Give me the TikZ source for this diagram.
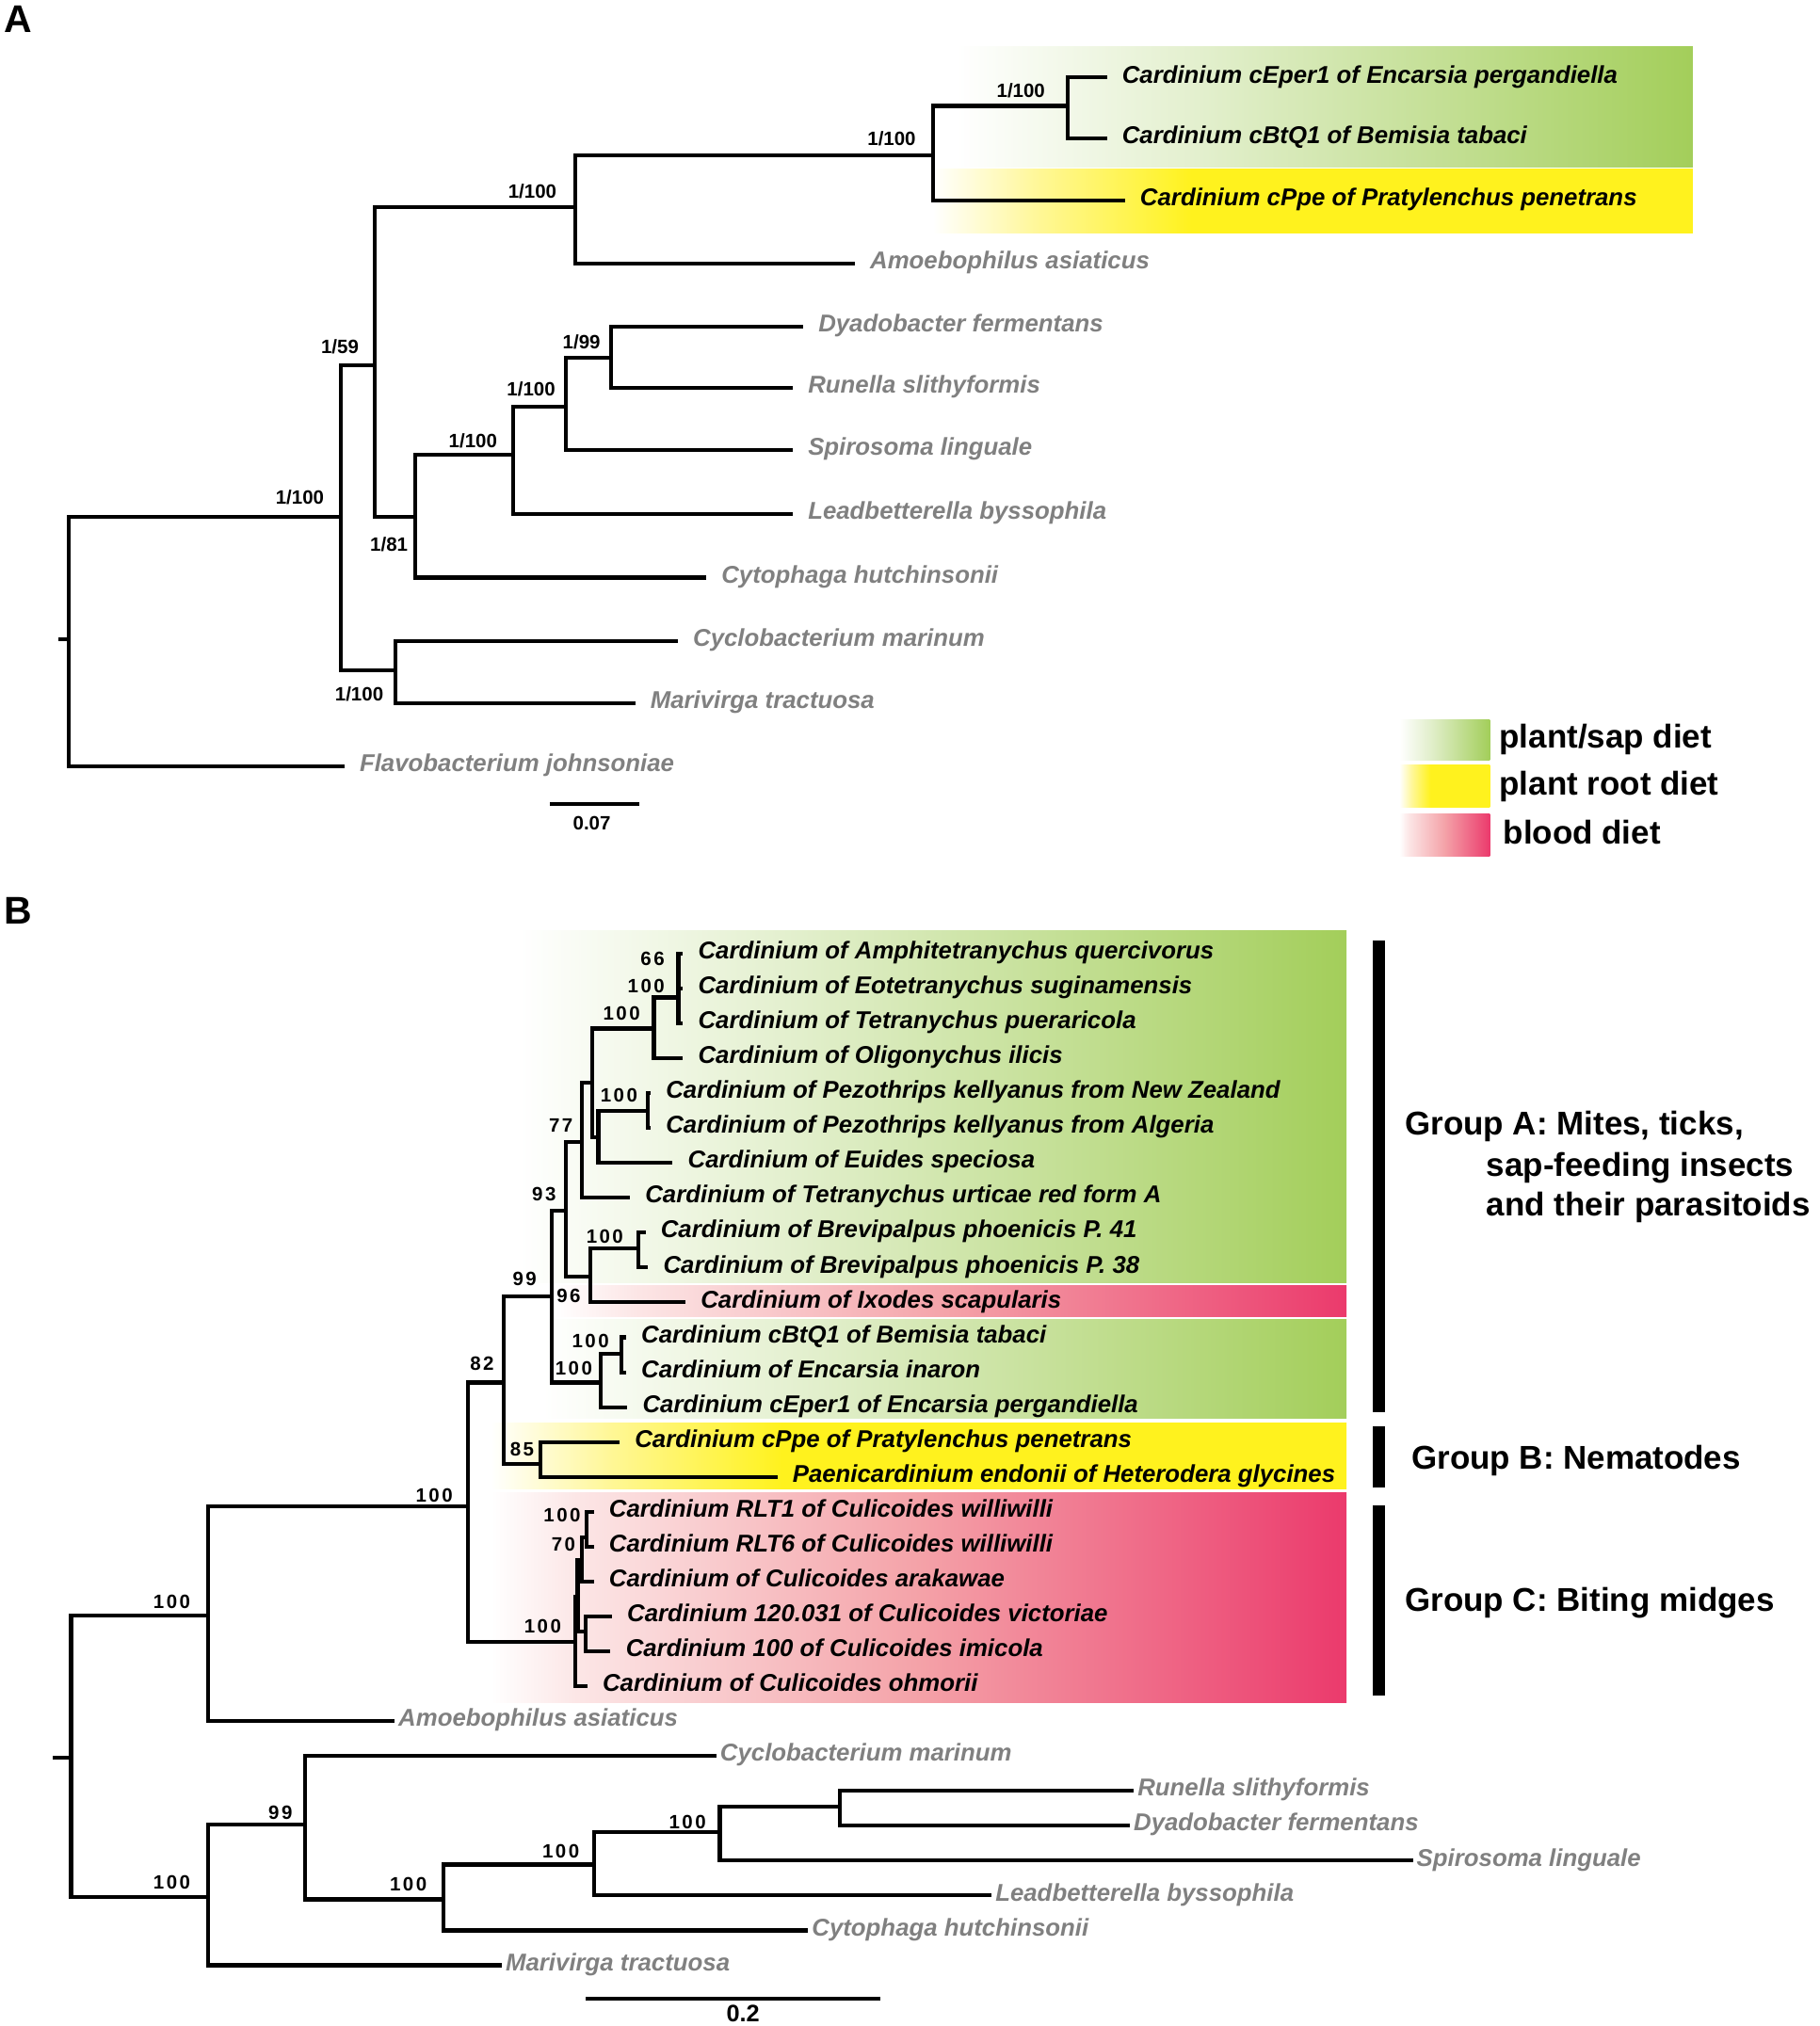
\documentclass[tikz,border=0pt]{standalone}
\usepackage{fontspec}
\setmainfont{Liberation Sans}
\newfontfamily\spacedfont[LetterSpace=12]{Liberation Sans}
\usetikzlibrary{positioning}
\definecolor{leafgrey}{RGB}{128,128,128}
\definecolor{sapgreen}{RGB}{163,206,90}
\definecolor{sapgreenlt}{RGB}{226,239,204}
\definecolor{rootyellow}{RGB}{255,242,30}
\definecolor{rootyellowlt}{RGB}{255,247,150}
\definecolor{bloodred}{RGB}{235,58,108}
\definecolor{bloodpink}{RGB}{244,162,168}
\definecolor{bloodlt}{RGB}{252,230,230}
\pgfdeclarehorizontalshading{sapfade}{100bp}{color(0bp)=(white); color(25bp)=(white); color(42bp)=(sapgreenlt); color(75bp)=(sapgreen); color(100bp)=(sapgreen)}
\pgfdeclarehorizontalshading{rootfade}{100bp}{color(0bp)=(white); color(25bp)=(white); color(32bp)=(rootyellowlt); color(42bp)=(rootyellow); color(100bp)=(rootyellow)}
\pgfdeclarehorizontalshading{bloodfade}{100bp}{color(0bp)=(white); color(25bp)=(white); color(30bp)=(bloodlt); color(50bp)=(bloodpink); color(75bp)=(bloodred); color(100bp)=(bloodred)}
\tikzset
{
	branch/.style = {line width=1.7pt, line cap=rect, line join=miter},
	taxon/.style = {anchor=west, inner xsep=0.26cm, inner ysep=0pt, text height=7.5pt, text depth=2.8pt, font=\fontsize{10.7}{12}\selectfont\bfseries\itshape},
	outtaxon/.style = {taxon, text=leafgrey},
	outtaxonB/.style = {outtaxon, inner xsep=0.08cm},
	supp/.style = {inner sep=0pt, font=\fontsize{8.5}{10}\selectfont\bfseries},
	suppB/.style = {inner sep=0pt, font=\fontsize{8.5}{10}\spacedfont\bfseries},
	panel/.style = {inner sep=0pt, font=\fontsize{17}{20}\selectfont\bfseries},
	grouplabel/.style = {anchor=west, inner sep=0pt, text height=10.5pt, text depth=0pt, font=\fontsize{14.5}{17}\selectfont\bfseries},
	groupbar/.style = {line width=0.18cm}
}
\begin{document}
\begin{tikzpicture}[x=0.02cm, y=-0.02cm]
\useasboundingbox (0,0) rectangle (1408,1568);
\shade[shading=sapfade] (740,36) rectangle (1310,129);
\shade[shading=rootfade] (722,131) rectangle (1310,180);
\shade[shading=sapfade] (400,720) rectangle (1042,993);
\shade[shading=bloodfade] (430,995) rectangle (1042,1019);
\shade[shading=sapfade] (420,1021) rectangle (1042,1098);
\shade[shading=rootfade] (380,1101) rectangle (1042,1152);
\shade[shading=bloodfade] (380,1155) rectangle (1042,1318);
\shade[shading=sapfade] (1083,557) rectangle (1153,588);
\shade[shading=rootfade] (1083,592) rectangle (1153,625);
\shade[shading=bloodfade] (1083,630) rectangle (1153,663);

\node[panel] (panelA) at (14,15) {A};
\node[panel] (panelB) at (14,705) {B};

\coordinate (stemA) at (47,495);
\coordinate (rootA) at (53,495);
\coordinate (a1) at (264,400);
\coordinate (a2) at (290,283);
\coordinate (a3) at (445,160);
\coordinate (a4) at (722,120);
\coordinate (a5) at (826,82);
\coordinate (a6) at (321,400);
\coordinate (a7) at (397,352);
\coordinate (a8) at (438,315);
\coordinate (a10) at (473,277);
\coordinate (a9) at (306,519);

\node[taxon] (cEpeA) at (855,60) {Cardinium cEper1 of Encarsia pergandiella};
\node[taxon] (cBtQA) at (855,107) {Cardinium cBtQ1 of Bemisia tabaci};
\node[taxon] (cPpeA) at (869,155) {Cardinium cPpe of Pratylenchus penetrans};
\node[outtaxon] (amoeA) at (660,204) {Amoebophilus asiaticus};
\node[outtaxon] (dyadA) at (620,253) {Dyadobacter fermentans};
\node[outtaxon] (runeA) at (612,300) {Runella slithyformis};
\node[outtaxon] (spirA) at (612,348) {Spirosoma linguale};
\node[outtaxon] (leadA) at (612,398) {Leadbetterella byssophila};
\node[outtaxon] (cytoA) at (545,447) {Cytophaga hutchinsonii};
\node[outtaxon] (cyclA) at (523,496) {Cyclobacterium marinum};
\node[outtaxon] (mariA) at (490,544) {Marivirga tractuosa};
\node[outtaxon] (flavA) at (265,593) {Flavobacterium johnsoniae};

\draw[branch] (stemA) -- (rootA);
\draw[branch] (rootA) |- (a1) (rootA) |- (flavA);
\draw[branch] (a1) |- (a2) (a1) |- (a9);
\draw[branch] (a2) |- (a3) (a2) |- (a6);
\draw[branch] (a3) |- (a4) (a3) |- (amoeA);
\draw[branch] (a4) |- (a5) (a4) |- (cPpeA);
\draw[branch] (a5) |- (cEpeA) (a5) |- (cBtQA);
\draw[branch] (a6) |- (a7) (a6) |- (cytoA);
\draw[branch] (a7) |- (a8) (a7) |- (leadA);
\draw[branch] (a8) |- (a10) (a8) |- (spirA);
\draw[branch] (a10) |- (dyadA) (a10) |- (runeA);
\draw[branch] (a9) |- (cyclA) (a9) |- (mariA);

\node[supp] (s-a1) at (232,385) {1/100};
\node[supp] (s-a2) at (263,268) {1/59};
\node[supp] (s-a3) at (412,148) {1/100};
\node[supp] (s-a4) at (690,107) {1/100};
\node[supp] (s-a5) at (790,70) {1/100};
\node[supp] (s-a6) at (301,421) {1/81};
\node[supp] (s-a7) at (366,341) {1/100};
\node[supp] (s-a8) at (411,301) {1/100};
\node[supp] (s-a10) at (450,265) {1/99};
\node[supp] (s-a9) at (278,537) {1/100};

\coordinate (barA1) at (427,622);
\coordinate (barA2) at (493,622);
\draw[branch] (barA1) -- (barA2);
\node[supp] (barAtext) at (458,637) {0.07};

\node[grouplabel] (legsap) at (1160,570) {plant/sap diet};
\node[grouplabel] (legroot) at (1160,606) {plant root diet};
\node[grouplabel] (legblood) at (1163,644) {blood diet};

\coordinate (stemB) at (42,1360);
\coordinate (rootB) at (55,1360);
\coordinate (b1) at (161,1250);
\coordinate (b2) at (362,1166);
\coordinate (b3) at (390,1070);
\coordinate (b4) at (427,1003);
\coordinate (b5) at (438,937);
\coordinate (b6) at (450,884);
\coordinate (b7) at (458,838);
\coordinate (tet) at (506,796);
\coordinate (tet2) at (525,772);
\coordinate (b8) at (463,880);
\coordinate (pez) at (501,860);
\coordinate (b9) at (457,988);
\coordinate (brev) at (494,966);
\coordinate (bem) at (465,1070);
\coordinate (bem2) at (481,1048);
\coordinate (nem) at (418,1133);
\coordinate (c0) at (445,1271);
\coordinate (c1) at (447,1236);
\coordinate (c3) at (450,1207);
\coordinate (c4) at (454,1190);
\coordinate (c2) at (453,1263);
\coordinate (o1) at (161,1468);
\coordinate (o2) at (236,1412);
\coordinate (o3) at (343,1470);
\coordinate (o4) at (460,1443);
\coordinate (o5) at (557,1418);
\coordinate (o6) at (650,1398);

\node[taxon] (amphB) at (527,738) {Cardinium of Amphitetranychus quercivorus};
\node[taxon] (eoteB) at (527,765) {Cardinium of Eotetranychus suginamensis};
\node[taxon] (puerB) at (527,792) {Cardinium of Tetranychus pueraricola};
\node[taxon] (oligB) at (527,819) {Cardinium of Oligonychus ilicis};
\node[taxon] (pezNZ) at (502,846) {Cardinium of Pezothrips kellyanus from New Zealand};
\node[taxon] (pezAl) at (502,873) {Cardinium of Pezothrips kellyanus from Algeria};
\node[taxon] (euidB) at (519,900) {Cardinium of Euides speciosa};
\node[taxon] (urtiB) at (486,927) {Cardinium of Tetranychus urticae red form A};
\node[taxon] (bp41) at (498,954) {Cardinium of Brevipalpus phoenicis P. 41};
\node[taxon] (bp38) at (500,981) {Cardinium of Brevipalpus phoenicis P. 38};
\node[taxon] (ixodB) at (529,1008) {Cardinium of Ixodes scapularis};
\node[taxon] (cBtQB) at (483,1035) {Cardinium cBtQ1 of Bemisia tabaci};
\node[taxon] (inarB) at (483,1062) {Cardinium of Encarsia inaron};
\node[taxon] (cEpeB) at (484,1089) {Cardinium cEper1 of Encarsia pergandiella};
\node[taxon] (cPpeB) at (478,1116) {Cardinium cPpe of Pratylenchus penetrans};
\node[taxon] (paenB) at (600,1143) {Paenicardinium endonii of Heterodera glycines};
\node[taxon] (rlt1) at (458,1170) {Cardinium RLT1 of Culicoides williwilli};
\node[taxon] (rlt6) at (458,1197) {Cardinium RLT6 of Culicoides williwilli};
\node[taxon] (arakB) at (458,1224) {Cardinium of Culicoides arakawae};
\node[taxon] (victB) at (472,1251) {Cardinium 120.031 of Culicoides victoriae};
\node[taxon] (imicB) at (471,1278) {Cardinium 100 of Culicoides imicola};
\node[taxon] (ohmoB) at (453,1305) {Cardinium of Culicoides ohmorii};
\node[outtaxonB] (amoeB) at (304,1332) {Amoebophilus asiaticus};
\node[outtaxonB] (cyclB) at (553,1359) {Cyclobacterium marinum};
\node[outtaxonB] (runeB) at (876,1386) {Runella slithyformis};
\node[outtaxonB] (dyadB) at (873,1413) {Dyadobacter fermentans};
\node[outtaxonB] (spirB) at (1092,1440) {Spirosoma linguale};
\node[outtaxonB] (leadB) at (766,1467) {Leadbetterella byssophila};
\node[outtaxonB] (cytoB) at (624,1494) {Cytophaga hutchinsonii};
\node[outtaxonB] (mariB) at (387,1521) {Marivirga tractuosa};

\draw[branch] (stemB) -- (rootB);
\draw[branch] (rootB) |- (b1) (rootB) |- (o1);
\draw[branch] (b1) |- (b2) (b1) |- (amoeB);
\draw[branch] (b2) |- (b3) (b2) |- (c0);
\draw[branch] (b3) |- (b4) (b3) |- (nem);
\draw[branch] (b4) |- (b5) (b4) |- (bem);
\draw[branch] (b5) |- (b6) (b5) |- (b9);
\draw[branch] (b6) |- (b7) (b6) |- (urtiB);
\draw[branch] (b7) |- (tet) (b7) |- (b8);
\draw[branch] (tet) |- (tet2) (tet) |- (oligB);
\draw[branch] (tet2) |- (amphB) (tet2) |- (eoteB) (tet2) |- (puerB);
\draw[branch] (b8) |- (pez) (b8) |- (euidB);
\draw[branch] (pez) |- (pezNZ) (pez) |- (pezAl);
\draw[branch] (b9) |- (brev) (b9) |- (ixodB);
\draw[branch] (brev) |- (bp41) (brev) |- (bp38);
\draw[branch] (bem) |- (bem2) (bem) |- (cEpeB);
\draw[branch] (bem2) |- (cBtQB) (bem2) |- (inarB);
\draw[branch] (nem) |- (cPpeB) (nem) |- (paenB);
\draw[branch] (c0) |- (c1) (c0) |- (ohmoB);
\draw[branch] (c1) |- (c3) (c1) |- (c2);
\draw[branch] (c3) |- (c4) (c3) |- (arakB);
\draw[branch] (c4) |- (rlt1) (c4) |- (rlt6);
\draw[branch] (c2) |- (victB) (c2) |- (imicB);
\draw[branch] (o1) |- (o2) (o1) |- (mariB);
\draw[branch] (o2) |- (cyclB) (o2) |- (o3);
\draw[branch] (o3) |- (o4) (o3) |- (cytoB);
\draw[branch] (o4) |- (o5) (o4) |- (leadB);
\draw[branch] (o5) |- (o6) (o5) |- (spirB);
\draw[branch] (o6) |- (runeB) (o6) |- (dyadB);

\node[suppB] (s-b1) at (133,1240) {100};
\node[suppB] (s-o1) at (133,1457) {100};
\node[suppB] (s-b2) at (336,1157) {100};
\node[suppB] (s-b3) at (373,1055) {82};
\node[suppB] (s-b4) at (406,990) {99};
\node[suppB] (s-nem) at (404,1122) {85};
\node[suppB] (s-b5) at (421,924) {93};
\node[suppB] (s-b6) at (434,871) {77};
\node[suppB] (s-b9) at (440,1003) {96};
\node[suppB] (s-tet) at (481,784) {100};
\node[suppB] (s-tet2a) at (505,742) {66};
\node[suppB] (s-tet2b) at (500,763) {100};
\node[suppB] (s-pez) at (479,848) {100};
\node[suppB] (s-brev) at (468,957) {100};
\node[suppB] (s-bem) at (444,1059) {100};
\node[suppB] (s-bem2) at (457,1038) {100};
\node[suppB] (s-c0) at (420,1259) {100};
\node[suppB] (s-c4a) at (435,1173) {100};
\node[suppB] (s-c4b) at (436,1195) {70};
\node[suppB] (s-o2) at (217,1403) {99};
\node[suppB] (s-o3) at (316,1458) {100};
\node[suppB] (s-o4) at (434,1433) {100};
\node[suppB] (s-o5) at (532,1410) {100};

\coordinate (barB1) at (455,1547);
\coordinate (barB2) at (680,1547);
\draw[branch] (barB1) -- (barB2);
\node[inner sep=0pt, font=\fontsize{10.5}{12}\selectfont\bfseries] (barBtext) at (575,1558) {0.2};

\coordinate (grpAtop) at (1067,728);
\coordinate (grpAbot) at (1067,1093);
\coordinate (grpBtop) at (1067,1104);
\coordinate (grpBbot) at (1067,1151);
\coordinate (grpCtop) at (1067,1165);
\coordinate (grpCbot) at (1067,1312);
\draw[groupbar] (grpAtop) -- (grpAbot);
\draw[groupbar] (grpBtop) -- (grpBbot);
\draw[groupbar] (grpCtop) -- (grpCbot);
\node[grouplabel] (grpA1) at (1087,869) {Group A: Mites, ticks,};
\node[grouplabel] (grpA2) at (1150,901) {sap-feeding insects};
\node[grouplabel] (grpA3) at (1150,932) {and their parasitoids};
\node[grouplabel] (grpB) at (1092,1128) {Group B: Nematodes};
\node[grouplabel] (grpC) at (1087,1238) {Group C: Biting midges};
\end{tikzpicture}
\end{document}
